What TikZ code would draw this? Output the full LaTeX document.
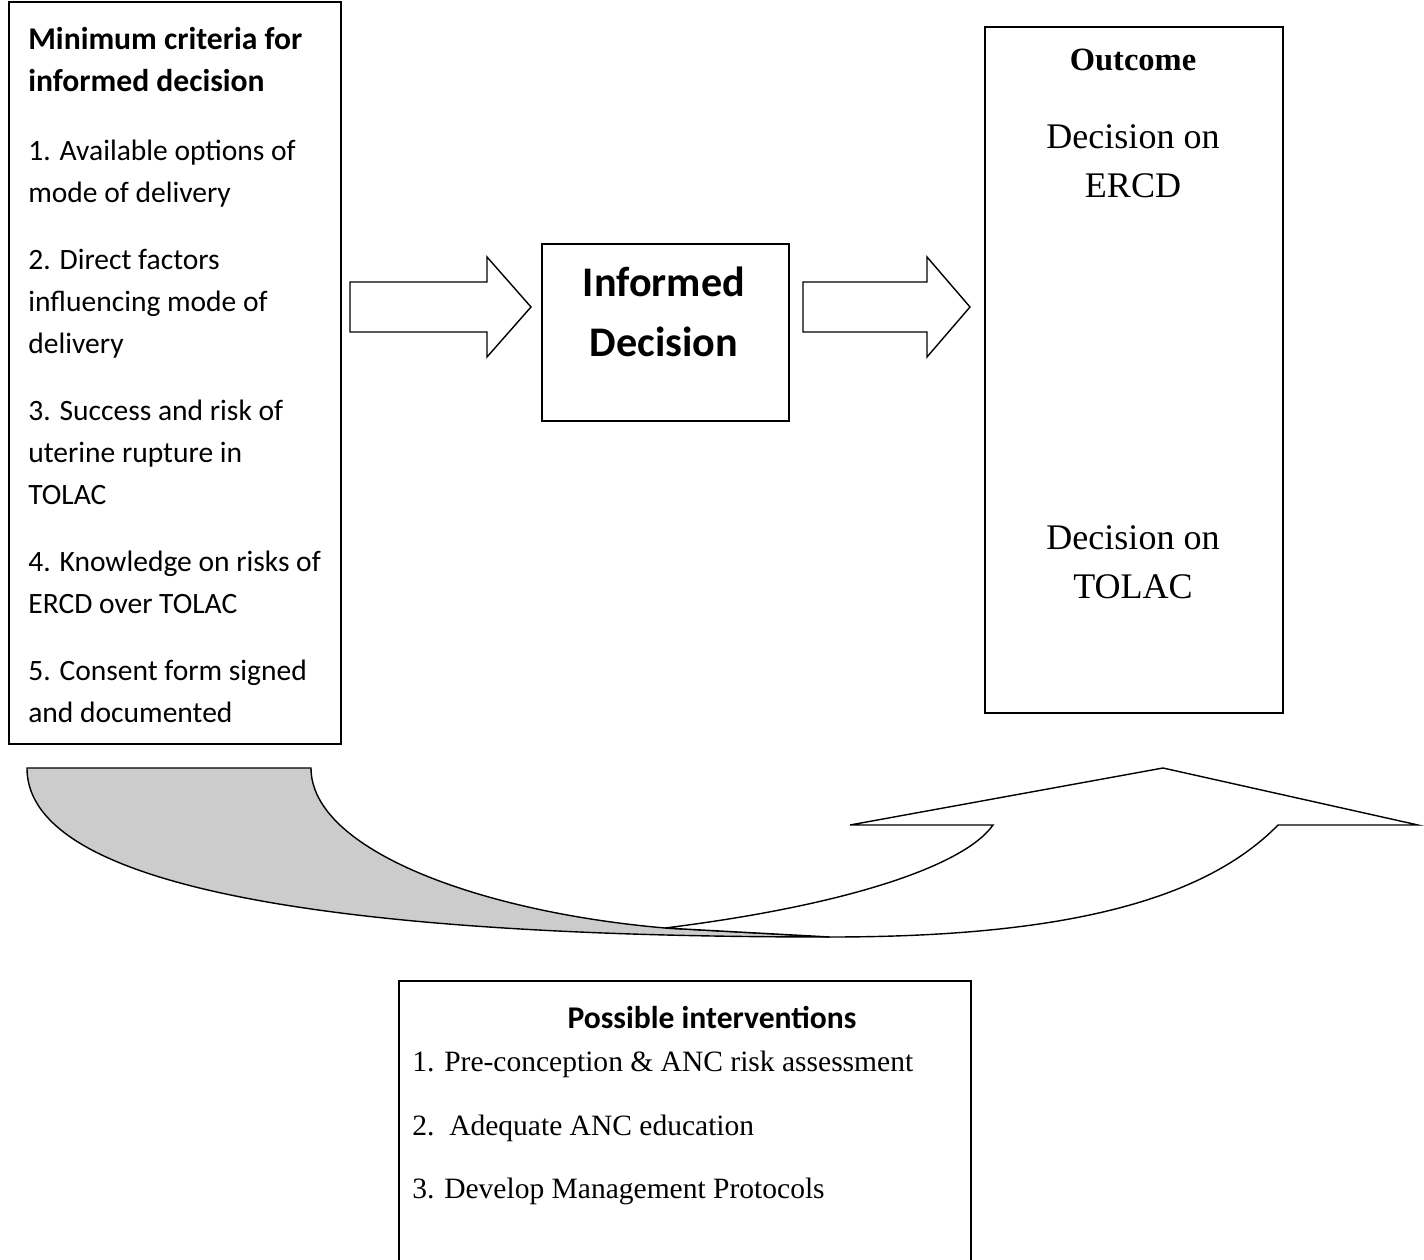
\documentclass[tikz,border=0pt]{standalone}
\usepackage{fontspec}
\setmainfont{Liberation Serif}
\newfontfamily\calib{Carlito}
\definecolor{shade}{HTML}{CCCCCC}

\tikzset{
  box/.style={draw, line width=1pt, anchor=north west, inner sep=0pt},
  blockarrow/.style={draw, line width=0.8pt, fill=white, line join=miter},
}

\begin{document}
\begin{tikzpicture}[x=0.02cm, y=-0.02cm]
            \useasboundingbox (0,0) rectangle (1424,1260);
            \clip (0,0) rectangle (1424,1260);

            % boxes
            \node[box, minimum width=6.64cm, minimum height=14.84cm] (crit) at (8,1) {};
            \node[box, minimum width=4.94cm, minimum height=3.54cm] (dec) at (541,243) {};
            \node[box, minimum width=5.96cm, minimum height=13.72cm] (out) at (984,26) {};
            \node[box, minimum width=11.44cm, minimum height=6.2cm] (interv) at (398,980) {};

            % texts
            \node[anchor=north west, inner sep=0pt, align=left,
                  font=\calib\fontsize{16.8}{24}\selectfont] (critText) at (28,27)
              {{\bfseries\fontsize{18}{24}\selectfont Minimum criteria for}\\
               {\bfseries\fontsize{18}{24}\selectfont informed decision}\\[15pt]
               1. Available options of\\
               mode of delivery\\[14pt]
               2. Direct factors\\
               influencing mode of\\
               delivery\\[14pt]
               3. Success and risk of\\
               uterine rupture in\\
               TOLAC\\[14pt]
               4. Knowledge on risks of\\
               ERCD over TOLAC\\[14pt]
               5. Consent form signed\\
               and documented};
            \node[align=center, font=\calib\bfseries\fontsize{24}{34}\selectfont] (decText) at (664,312)
              {Informed\\Decision};
            \node[font=\bfseries\fontsize{18.5}{22}\selectfont] (outTitle) at (1133,60) {Outcome};
            \node[align=center, font=\fontsize{20.5}{28}\selectfont] (ercd) at (1133,161) {Decision on\\ERCD};
            \node[align=center, font=\fontsize{20.5}{28}\selectfont] (tolac) at (1133,562) {Decision on\\TOLAC};
            \node[font=\calib\bfseries\fontsize{18}{20}\selectfont] (intTitle) at (712,1017) {Possible interventions};
            \node[anchor=west, inner sep=0pt, align=left, font=\fontsize{16.8}{36.3}\selectfont] (intList) at (412,1128)
              {1. Pre-conception \& ANC risk assessment\\
               2.\ \ Adequate ANC education\\
               3. Develop Management Protocols};

            % block arrows
            \draw[blockarrow] (350,282) -- (487,282) -- (487,257) -- (531,307) -- (487,357) -- (487,332) -- (350,332) -- cycle;
            \draw[blockarrow] (803,282) -- (927,282) -- (927,257) -- (970,307) -- (927,357) -- (927,332) -- (803,332) -- cycle;

            % curved arrow
            \draw[line width=0.8pt, fill=shade] (27,768) -- (311,768)
              .. controls (311,850) and (480,912) .. (665,928) -- (830,937)
              .. controls (400,937) and (27,900) .. (27,768) -- cycle;
            \draw[line width=0.8pt, fill=white, line join=miter] (665,928)
              .. controls (850,905) and (965,865) .. (993,825) -- (850,825) -- (1163,768)
              -- (1418,825) -- (1278,825)
              .. controls (1200,905) and (1050,937) .. (830,937) -- cycle;
        \end{tikzpicture}
\end{document}
